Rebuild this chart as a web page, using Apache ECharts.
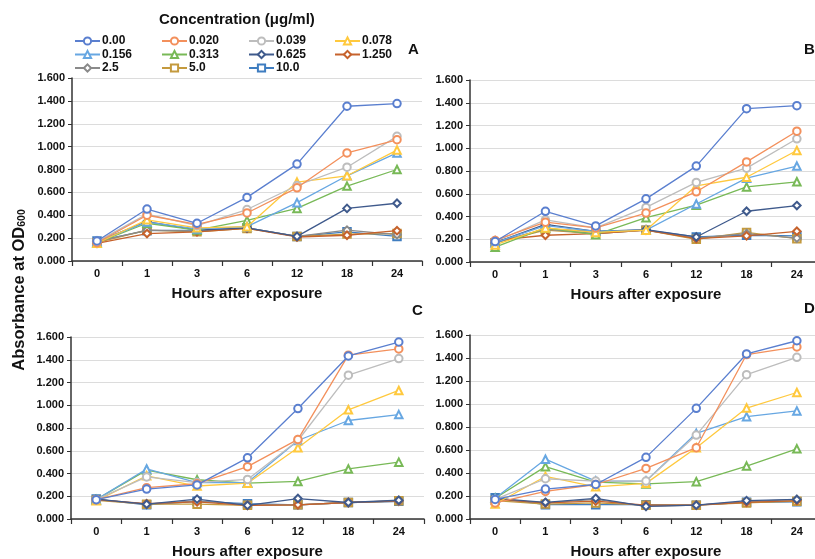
<!DOCTYPE html>
<html><head><meta charset="utf-8">
<script src="https://cdn.jsdelivr.net/npm/echarts@6/dist/echarts.min.js"></script>
<style>html,body{margin:0;padding:0;background:#fff}#c{width:815px;height:559px}</style>
</head><body><div id="c"></div>
<script>
const hours = ['0','1','3','6','12','18','24'];
const concentrations = ['0.00','0.020','0.039','0.078','0.156','0.313','0.625','1.250','2.5','5.0','10.0'];
const yTicks = [0, 0.2, 0.4, 0.6, 0.8, 1.0, 1.2, 1.4, 1.6];
const panelLetters = ['A','B','C','D'];
const colors = ['#5A7FCF','#F3905C','#BDBDBD','#FFC93E','#67A7E2','#78B957','#3F5A8C','#C6622C','#8A8A8A','#C49A3E','#3F7DC0'];
const symbols = ['emptyCircle','emptyCircle','emptyCircle','emptyTriangle','emptyTriangle','emptyTriangle','emptyDiamond','emptyDiamond','emptyDiamond','emptyRect','emptyRect'];

const panelA = [
  [0.175,0.454,0.330,0.556,0.847,1.353,1.376],
  [0.160,0.400,0.320,0.420,0.640,0.945,1.060],
  [0.170,0.410,0.310,0.450,0.660,0.820,1.090],
  [0.155,0.360,0.290,0.300,0.690,0.745,0.970],
  [0.170,0.340,0.280,0.300,0.510,0.745,0.945],
  [0.160,0.330,0.270,0.355,0.460,0.655,0.800],
  [0.170,0.345,0.270,0.290,0.215,0.460,0.505],
  [0.155,0.240,0.255,0.285,0.210,0.225,0.265],
  [0.170,0.270,0.260,0.290,0.215,0.270,0.230],
  [0.160,0.270,0.255,0.285,0.215,0.235,0.240],
  [0.175,0.265,0.270,0.290,0.215,0.255,0.215]
];
const panelB = [
  [0.180,0.446,0.317,0.555,0.843,1.348,1.374],
  [0.190,0.350,0.300,0.430,0.617,0.880,1.150],
  [0.180,0.370,0.300,0.480,0.700,0.825,1.083],
  [0.150,0.300,0.260,0.280,0.670,0.745,0.980],
  [0.170,0.320,0.270,0.280,0.510,0.737,0.843],
  [0.130,0.300,0.240,0.390,0.500,0.660,0.705],
  [0.170,0.330,0.270,0.285,0.220,0.446,0.496],
  [0.190,0.235,0.250,0.280,0.205,0.230,0.270],
  [0.170,0.290,0.250,0.280,0.210,0.250,0.210],
  [0.170,0.280,0.250,0.280,0.200,0.260,0.205],
  [0.170,0.290,0.270,0.280,0.220,0.235,0.230]
];
const panelC = [
  [0.170,0.263,0.300,0.538,0.971,1.433,1.556],
  [0.170,0.275,0.310,0.460,0.700,1.440,1.495],
  [0.170,0.370,0.320,0.348,0.690,1.264,1.410],
  [0.160,0.380,0.290,0.315,0.626,0.960,1.130],
  [0.170,0.440,0.320,0.320,0.690,0.866,0.918],
  [0.170,0.430,0.345,0.315,0.330,0.440,0.500],
  [0.175,0.130,0.175,0.120,0.180,0.145,0.165],
  [0.170,0.135,0.150,0.120,0.125,0.145,0.160],
  [0.170,0.130,0.160,0.125,0.125,0.145,0.155],
  [0.165,0.130,0.130,0.120,0.125,0.145,0.160],
  [0.175,0.125,0.155,0.135,0.125,0.145,0.155]
];
const panelD = [
  [0.170,0.260,0.300,0.536,0.962,1.435,1.550],
  [0.140,0.240,0.300,0.440,0.620,1.430,1.496],
  [0.170,0.350,0.330,0.330,0.730,1.255,1.406],
  [0.130,0.370,0.280,0.310,0.620,0.965,1.100],
  [0.180,0.520,0.330,0.330,0.745,0.890,0.940],
  [0.180,0.455,0.320,0.305,0.325,0.460,0.610],
  [0.180,0.145,0.180,0.110,0.120,0.160,0.170],
  [0.170,0.140,0.155,0.120,0.120,0.145,0.160],
  [0.170,0.140,0.170,0.110,0.120,0.150,0.170],
  [0.160,0.130,0.140,0.120,0.120,0.140,0.155],
  [0.185,0.125,0.125,0.125,0.120,0.145,0.150]
];
const panels = [panelA, panelB, panelC, panelD];

const FONT = 'Liberation Sans, Arial, sans-serif';
const grids = [
  {left:72, top:78, width:350, height:183, outerBoundsMode:'none', containLabel:false},
  {left:470, top:80, width:352, height:182, outerBoundsMode:'none', containLabel:false},
  {left:71, top:337, width:353, height:182, outerBoundsMode:'none', containLabel:false},
  {left:470, top:335, width:352, height:184, outerBoundsMode:'none', containLabel:false}
];

const xAxes = grids.map((g,i)=>({
  type:'category', gridIndex:i, data:hours, boundaryGap:true,
  name:'Hours after exposure', nameLocation:'middle', nameGap:25,
  nameTextStyle:{fontFamily:FONT, fontWeight:'bold', fontSize:15, color:'#111'},
  axisLine:{lineStyle:{color:'#333', width:1.5}},
  axisTick:{show:true, length:5, lineStyle:{color:'#333', width:1.2}},
  axisLabel:{fontFamily:FONT, fontWeight:'bold', fontSize:11, color:'#111', margin:7},
  splitLine:{show:false}
}));
const yAxes = grids.map((g,i)=>({
  type:'value', gridIndex:i, min:0, max:1.6, interval:0.2,
  axisLine:{show:true, lineStyle:{color:'#333', width:1.5}},
  axisTick:{show:true, length:4, lineStyle:{color:'#333'}},
  axisLabel:{fontFamily:FONT, fontWeight:'bold', fontSize:11, color:'#111', margin:7,
    formatter:v=>v.toFixed(3)},
  splitLine:{show:true, lineStyle:{color:'#DCDCDC', width:1}}
}));

const series = [];
panels.forEach((p,pi)=>{
  p.forEach((vals,si)=>{
    series.push({
      type:'line', name:concentrations[si], xAxisIndex:pi, yAxisIndex:pi,
      data:vals, symbol:symbols[si], symbolSize:7.5,
      showAllSymbol:true,
      lineStyle:{color:colors[si], width:1.3},
      itemStyle:{color:colors[si], borderWidth:1.2},
      z: 20 - si
    });
  });
});

const cols = [
  [concentrations[0],concentrations[4],concentrations[8]],
  [concentrations[1],concentrations[5],concentrations[9]],
  [concentrations[2],concentrations[6],concentrations[10]],
  [concentrations[3],concentrations[7]]
];
const colX = [74,161,248,334];
const legends = cols.map((c,i)=>({
  data:c, orient:'vertical', left:colX[i], top:35, itemGap:1.5, itemWidth:25, itemHeight:9,
  padding:0, selectedMode:false,
  textStyle:{fontFamily:FONT, fontWeight:'bold', fontSize:12, color:'#111', padding:[0,0,0,-3]}
}));

const letterPos = [[408,42],[804,42],[412,303],[804,301]];
const graphics = letterPos.map((p,i)=>({
  type:'text', left:p[0], top:p[1],
  style:{text:panelLetters[i], font:'bold 15px '+FONT, fill:'#111'}
}));
graphics.push({
  type:'text', left:159, top:12,
  style:{text:'Concentration (\u03bcg/ml)', font:'bold 15px '+FONT, fill:'#111'}
});
graphics.push({
  type:'text', x:28, y:290, rotation:Math.PI/2,
  style:{
    text:'{a|Absorbance at OD}{s|600}', align:'center', verticalAlign:'bottom',
    rich:{a:{font:'bold 16.5px '+FONT, fill:'#111'}, s:{font:'bold 10.5px '+FONT, fill:'#111', padding:[7,0,0,0]}}
  }
});

const chart = echarts.init(document.getElementById('c'), null, {renderer:'canvas'});
chart.setOption({
  animation:false,
  backgroundColor:'#fff',
  grid:grids, xAxis:xAxes, yAxis:yAxes, series:series, legend:legends, graphic:graphics
});
</script></body></html>
